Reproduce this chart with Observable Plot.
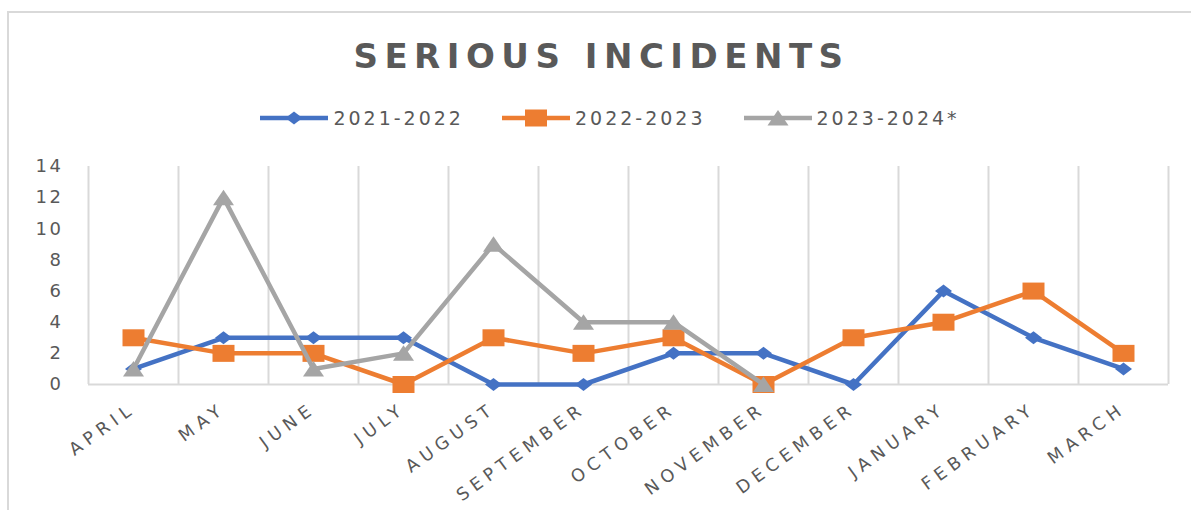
<!DOCTYPE html>
<html>
<head>
<meta charset="utf-8">
<script src="https://cdn.jsdelivr.net/npm/d3@7"></script>
<script src="https://cdn.jsdelivr.net/npm/@observablehq/plot@0.6"></script>
<style>
  html, body { margin: 0; padding: 0; background: #fff; }
  #wrap { position: relative; width: 1191px; height: 510px; overflow: hidden; font-family: "DejaVu Sans", sans-serif; color: #595959; }
  #frame { position: absolute; left: 7px; top: 11px; width: 1220px; height: 540px; border: 2px solid #d9d9d9; box-sizing: border-box; }
  #title { position: absolute; left: 0; width: 1191px; top: 36px; text-align: center; font-weight: bold; font-size: 34px; letter-spacing: 6.5px; line-height: 40px; padding-left: 12px; box-sizing: border-box; }
  #legend { position: absolute; left: 0; width: 1191px; top: 104px; height: 28px; display: flex; justify-content: center; align-items: center; font-size: 19px; letter-spacing: 3px; padding-left: 29px; box-sizing: border-box; }
  .item { display: flex; align-items: center; margin: 0 19px; }
  .item svg { margin-right: 5px; }
  #chart { position: absolute; left: 0; top: 140px; }
</style>
</head>
<body>
<div id="wrap">
  <div id="frame"></div>
  <div id="title">SERIOUS INCIDENTS</div>
  <div id="legend"></div>
  <div id="chart"></div>
</div>
<script>
const months = ["APRIL","MAY","JUNE","JULY","AUGUST","SEPTEMBER","OCTOBER","NOVEMBER","DECEMBER","JANUARY","FEBRUARY","MARCH"];
const seriesNames = ["2021-2022","2022-2023","2023-2024*"];
const values2122 = [1,3,3,3,0,0,2,2,0,6,3,1];
const values2223 = [3,2,2,0,3,2,3,0,3,4,6,2];
const values2324 = [1,12,1,2,9,4,4,0,null,null,null,null];
const yTicks = [0,2,4,6,8,10,12,14];
const colors = ["#4472C4","#ED7D31","#A5A5A5"];

// custom (horizontally stretched) marker symbols
const diamond = {draw(ctx){ ctx.moveTo(0,-6.5); ctx.lineTo(8.5,0); ctx.lineTo(0,6.5); ctx.lineTo(-8.5,0); ctx.closePath(); }};
const square = {draw(ctx){ ctx.rect(-11,-8.5,22,17); }};
const triangle = {draw(ctx){ ctx.moveTo(0,-8); ctx.lineTo(10.5,7.5); ctx.lineTo(-10.5,7.5); ctx.closePath(); }};
const symbols = [diamond, square, triangle];

const allValues = [values2122, values2223, values2324];
const data = [];
allValues.forEach((vals, si) => vals.forEach((v, i) => {
  if (v != null) data.push({series: seriesNames[si], month: months[i], value: v});
}));

const W = 1191, H = 370, mL = 88, mR = 23, mT = 26, mB = 126;
const step = (W - mL - mR) / months.length;

const marks = [
  Plot.ruleX(months, {x: d => d, y1: 0, y2: 14, dx: -step / 2, stroke: "#d9d9d9", strokeWidth: 2}),
  Plot.ruleX([months[months.length - 1]], {x: d => d, y1: 0, y2: 14, dx: step / 2, stroke: "#d9d9d9", strokeWidth: 2}),
  Plot.ruleY([0], {y: d => d, stroke: "#d9d9d9", strokeWidth: 2}),
  Plot.axisY({ticks: yTicks, tickSize: 0, tickPadding: 25, fontSize: 18, label: null}),
  Plot.axisX({tickSize: 0, tickRotate: -36, tickPadding: 22, fontSize: 17.5, label: null})
];
seriesNames.forEach((name, si) => {
  const d = data.filter(r => r.series === name);
  marks.push(Plot.line(d, {x: "month", y: "value", stroke: colors[si], strokeWidth: 4.5, strokeLinejoin: "round"}));
  marks.push(Plot.dot(d, {x: "month", y: "value", symbol: () => symbols[si], r: 5, fill: colors[si], stroke: "none"}));
});

const chart = Plot.plot({
  width: W, height: H,
  marginLeft: mL, marginRight: mR, marginTop: mT, marginBottom: mB,
  x: {type: "point", domain: months, padding: 0.5, axis: null},
  y: {domain: [0, 14], axis: null},
  symbol: {type: "identity"},
  style: {fontFamily: "DejaVu Sans, sans-serif", color: "#595959", background: "transparent", overflow: "visible"},
  marks
});
d3.select(chart).selectAll("text").each(function() {
  const t = this.textContent;
  if (months.includes(t)) this.style.letterSpacing = "5.5px";
  else this.style.letterSpacing = "2.5px";
});
document.getElementById("chart").appendChild(chart);

// legend
const legend = document.getElementById("legend");
seriesNames.forEach((name, si) => {
  const item = document.createElement("div");
  item.className = "item";
  const svg = d3.create("svg").attr("width", 68).attr("height", 20);
  svg.append("line").attr("x1", 0).attr("x2", 68).attr("y1", 10).attr("y2", 10).attr("stroke", colors[si]).attr("stroke-width", 4.5);
  svg.append("path").attr("transform", "translate(34,10)").attr("d", d3.symbol(symbols[si])()).attr("fill", colors[si]);
  item.appendChild(svg.node());
  const t = document.createElement("span");
  t.textContent = name;
  item.appendChild(t);
  legend.appendChild(item);
});
</script>
</body>
</html>
